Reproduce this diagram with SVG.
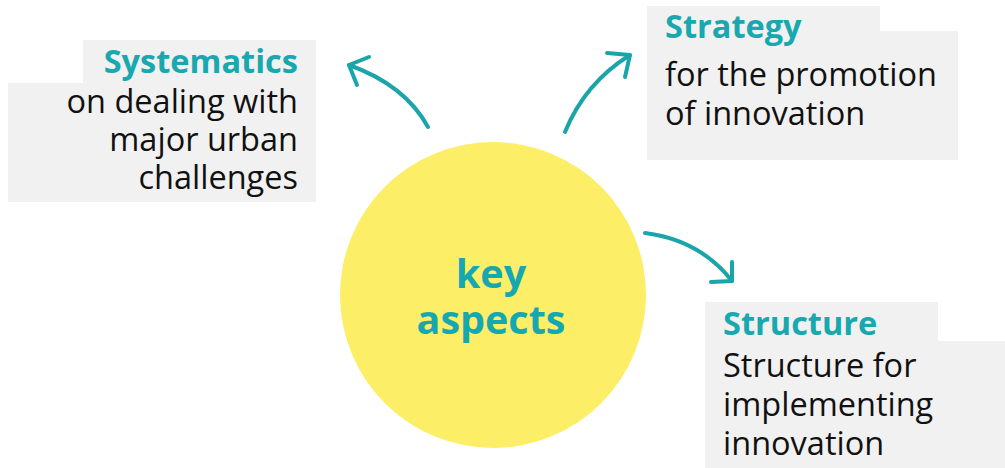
<svg xmlns="http://www.w3.org/2000/svg" width="1005" height="468" viewBox="0 0 1005 468">
<style>
.box{fill:#f1f1f1}
.title{font-family:"Open Sans","Liberation Sans",sans-serif;font-weight:bold;font-size:32.5px;fill:#1aa8b0}
.body{font-family:"Open Sans","Liberation Sans",sans-serif;font-size:32.5px;fill:#111}
.conn{fill:none;stroke:#1aa5ab;stroke-width:4;stroke-linecap:round;stroke-linejoin:round}
.center{font-family:"Open Sans","Liberation Sans",sans-serif;font-weight:bold;font-size:39.5px;fill:#15a8b0}
</style>
<rect width="1005" height="468" fill="#fff"/>
<g id="key-aspects">
<circle cx="493" cy="295" r="153" fill="#fcee66"/>
<text class="center" x="491" y="288" text-anchor="middle">key</text>
<text class="center" x="491" y="334" text-anchor="middle">aspects</text>
</g>
<g id="systematics">
<rect class="box" x="83" y="40" width="233" height="44"/>
<rect class="box" x="8" y="83" width="308" height="119"/>
<text class="title" x="298" y="73" text-anchor="end">Systematics</text>
<text class="body" text-anchor="end"><tspan x="298" y="113">on dealing with</tspan><tspan x="298" y="151">major urban</tspan><tspan x="298" y="189">challenges</tspan></text>
</g>
<g id="strategy">
<rect class="box" x="647" y="6" width="233" height="26"/>
<rect class="box" x="647" y="31" width="311" height="129"/>
<text class="title" x="665" y="38">Strategy</text>
<text class="body"><tspan x="665" y="86">for the promotion</tspan><tspan x="665" y="125">of innovation</tspan></text>
</g>
<g id="structure">
<rect class="box" x="705" y="302" width="233" height="40"/>
<rect class="box" x="705" y="341" width="300" height="127"/>
<text class="title" x="723" y="335">Structure</text>
<text class="body"><tspan x="723" y="377">Structure for</tspan><tspan x="723" y="416">implementing</tspan><tspan x="723" y="455">innovation</tspan></text>
</g>
<g id="connectors">
<path class="conn" d="M428,127 Q405,85 349,65"/>
<path class="conn" d="M369,57 L349,65 L357,85"/>
<path class="conn" d="M565,132 Q585,83 630,55"/>
<path class="conn" d="M607,53 L630,55 L625,77"/>
<path class="conn" d="M645,233 Q700,240 732,281"/>
<path class="conn" d="M711,282 L732,281 L732,262"/>
</g>
</svg>
